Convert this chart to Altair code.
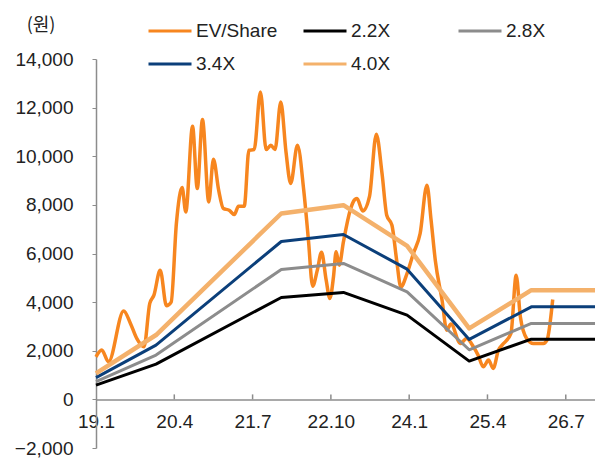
import altair as alt
import pandas as pd

# ---- data ----
x_labels = ["19.1", "20.4", "21.7", "22.10", "24.1", "25.4", "26.7"]
x_tick_pos = [0, 15, 30, 45, 60, 75, 90]

ev_month = [0.0, 1.1, 2.4, 5.3, 6.6, 7.8, 9.2, 10.3, 11.1, 12.3,
            13.5, 14.4, 15.4, 16.5, 17.2, 18.5, 19.4, 20.4, 21.6, 22.5,
            23.5, 24.4, 25.5, 26.5, 27.3, 28.4, 29.3, 30.3, 31.5, 32.6,
            33.5, 34.3, 35.4, 36.4, 37.3, 38.6, 39.8, 40.7, 41.5, 42.4,
            43.2, 44.1, 44.8, 45.5, 46.0, 46.6, 47.4, 48.7, 49.5, 50.0,
            51.1, 52.4, 53.7, 54.8, 55.7, 56.7, 57.6, 58.4, 59.6, 60.8,
            62.1, 63.4, 64.2, 65.0, 66.3, 67.2, 68.0, 69.8, 71.0, 72.3,
            73.2, 74.2, 75.2, 76.1, 77.1, 77.8, 79.5, 80.5, 81.3, 82.5,
            83.8, 85.7, 86.4, 87.5]
ev_value = [1750, 2030, 1545, 3630, 3124, 2507, 2162, 3946, 4287, 5314,
            3850, 4000, 7234, 8713, 7711, 11233, 8672, 11508, 8122, 9877,
            8603, 7850, 7780, 7604, 7945, 7945, 10247, 10275, 12643, 10275,
            10452, 10275, 12232, 10177, 8878, 10452, 8603, 6547, 4657, 5314,
            6050, 4903, 4150, 5040, 6067, 5520, 6478, 7780, 8200, 8261,
            7750, 8350, 10904, 9289, 7575, 7164, 5725, 4628, 5179, 6001,
            6823, 8808, 7369, 5725, 4081, 2848, 3100, 2302, 2500, 2162,
            1821, 1340, 1615, 1274, 2026, 2232, 2713, 5109, 3395, 2507,
            2302, 2302, 2437, 4110]

band_month = [0, 11.5, 35.5, 47.4, 59.6, 71.5, 83.4, 96]
band_22 = [588, 1451, 4192, 4398, 3465, 1574, 2478, 2478]
band_28 = [735, 1821, 5343, 5590, 4423, 2040, 3124, 3124]
band_34 = [895, 2232, 6494, 6782, 5356, 2466, 3806, 3806]
band_40 = [1069, 2647, 7645, 7986, 6313, 2918, 4492, 4492]

series = ["EV/Share", "2.2X", "2.8X", "3.4X", "4.0X"]
colors = ["#F7861F", "#000000", "#8C8C8C", "#0B3F7A", "#F4B16B"]
widths = {"EV/Share": 3.5, "2.2X": 3, "2.8X": 3, "3.4X": 3, "4.0X": 4.5}

rows = [{"series": "EV/Share", "month": m, "value": v} for m, v in zip(ev_month, ev_value)]
for name, vals in [("2.2X", band_22), ("2.8X", band_28), ("3.4X", band_34), ("4.0X", band_40)]:
    rows += [{"series": name, "month": m, "value": v} for m, v in zip(band_month, vals)]
df = pd.DataFrame(rows)

ticks_df = pd.DataFrame({"month": x_tick_pos[1:], "y0": [0] * 6, "y1": [205] * 6})

FONT = "Liberation Sans"
label_expr = "[" + ",".join("'%s'" % s for s in x_labels) + "][round(datum.value/15)]"

x_enc = alt.X("month:Q", scale=alt.Scale(domain=[0, 95.6], nice=False, zero=False),
              axis=alt.Axis(values=x_tick_pos, labelExpr=label_expr, ticks=False, grid=False,
                            domainColor="#8C8C8C", domainWidth=1.5, labelFontSize=19, labelFont=FONT,
                            labelColor="#222222", labelPadding=13, labelFlush=False,
                            labelOverlap=False, offset=-48.6, title=None))
y_enc = alt.Y("value:Q", scale=alt.Scale(domain=[-2000, 14000], nice=False),
              axis=alt.Axis(values=list(range(-2000, 14001, 2000)), format=",d", grid=False,
                            tickSize=4, tickColor="#8C8C8C", domainColor="#8C8C8C", domainWidth=1.5,
                            labelFontSize=19, labelFont=FONT, labelColor="#222222", labelPadding=19,
                            title="(원)", titleAngle=0, titleX=-55.5, titleY=-33.5,
                            titleAlign="center", titleBaseline="middle", titleFontSize=18,
                            titleFont="Noto Sans CJK KR", titleFontWeight="normal",
                            titleColor="#222222"))

color_enc = alt.Color("series:N", scale=alt.Scale(domain=series, range=colors),
                      legend=alt.Legend(orient="none", legendX=51, legendY=-51, direction="horizontal",
                                        columns=3, title=None, symbolType="stroke", symbolSize=1849,
                                        symbolStrokeWidth=3, labelFontSize=19, labelFont=FONT,
                                        labelColor="#222222", gridAlign="all", columnPadding=19,
                                        rowPadding=-12, labelOffset=3, labelLimit=200))

base = alt.Chart(df)
layers = []
for s in series:
    layers.append(
        base.transform_filter(alt.datum.series == s)
        .mark_line(interpolate="monotone" if s == "EV/Share" else "linear",
                   strokeWidth=widths[s], strokeJoin="round")
        .encode(x=x_enc, y=y_enc, color=color_enc)
    )

tick_layer = alt.Chart(ticks_df).mark_rule(color="#8C8C8C", strokeWidth=1.5).encode(
    x="month:Q", y="y0:Q", y2="y1:Q")

chart = alt.layer(tick_layer, *layers).properties(
    width=499, height=389,
    padding={"left": 88, "top": 51, "right": 0, "bottom": 11},
    autosize=alt.AutoSizeParams(type="none"),
).configure_view(stroke=None)

chart.save("out.html", embed_options={"renderer": "svg", "actions": False})
